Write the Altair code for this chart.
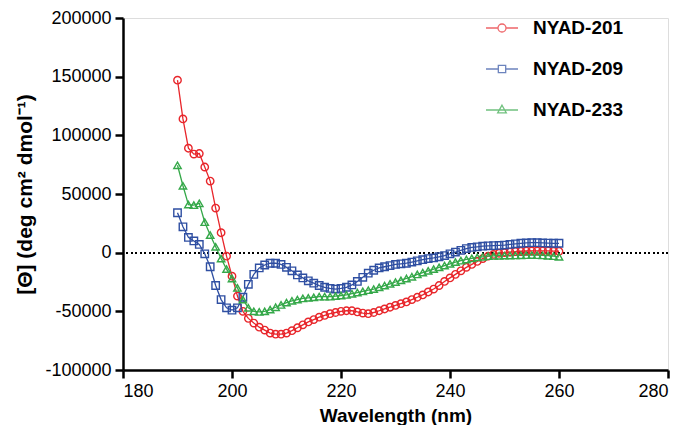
import altair as alt
import pandas as pd

wavelength = list(range(190, 261))

nyad_201 = [147000, 114000, 89000, 84000, 84500, 73000, 61000, 38000, 17000, -3000,
            -20000, -37000, -50000, -56000, -60000, -63500, -66000, -68500, -69500, -69500,
            -68500, -66500, -64000, -61500, -59000, -57000, -55000, -53500, -52000, -51000,
            -50000, -49500, -49500, -50500, -51500, -52000, -51000, -49500, -48000, -46500,
            -45000, -43500, -42000, -40000, -38000, -36000, -33500, -31000, -28000, -24500,
            -21500, -18500, -15500, -12500, -10000, -7500, -5000, -3000, -1500, -500,
            0, 500, 900, 1200, 1400, 1500, 1500, 1500, 1500, 1300, 1200]

nyad_209 = [34000, 22000, 13000, 10000, 7000, -1000, -12000, -28000, -40000, -47000,
            -49000, -47000, -38000, -27000, -18500, -13000, -10500, -9000, -9000, -10000,
            -12500, -15500, -19000, -21500, -24000, -26000, -28000, -29500, -30500, -31000,
            -30500, -29500, -27500, -24500, -21000, -17500, -15000, -13000, -12000, -11000,
            -10000, -9500, -9000, -8000, -7000, -6000, -5000, -4500, -3500, -2500,
            -1000, 500, 2000, 3500, 4500, 5000, 5500, 5800, 6000, 6200,
            6500, 7000, 7500, 8000, 8300, 8500, 8500, 8300, 8200, 8000, 8000]

nyad_233 = [74500, 57000, 41000, 40500, 42000, 26000, 15000, 5000, -5000, -14000,
            -22000, -30000, -40000, -47000, -50000, -50500, -50000, -48500, -46500, -44500,
            -42500, -41000, -40000, -39000, -38500, -38000, -37500, -37500, -37500, -37000,
            -36500, -36000, -35000, -34000, -33000, -32000, -31000, -29500, -28000, -26500,
            -25000, -23500, -22000, -20500, -18500, -17000, -15500, -14000, -12500, -11000,
            -9500, -8000, -6800, -5800, -4800, -4000, -3500, -3000, -2800, -2600,
            -2500, -2400, -2300, -2200, -2100, -2000, -2100, -2300, -2600, -3000, -3500]

series_names = ["NYAD-201", "NYAD-209", "NYAD-233"]
series_colors = ["#e8262b", "#2f4fa2", "#35a849"]
series_shapes = ["circle", "square", "triangle-up"]
legend_paths = [
    "M-1,0H-0.25M0.25,0H1M0.25,0A0.25,0.25,0,1,1,-0.25,0A0.25,0.25,0,1,1,0.25,0Z",
    "M-1,0H-0.23M0.23,0H1M-0.23,-0.23H0.23V0.23H-0.23Z",
    "M-1,0H1M0,-0.3L0.27,0.18H-0.27Z",
]

x_ticks = [180, 200, 220, 240, 260, 280]
y_ticks = [-100000, -50000, 0, 50000, 100000, 150000, 200000]

rows = []
for name, vals in zip(series_names, [nyad_201, nyad_209, nyad_233]):
    for w, v in zip(wavelength, vals):
        rows.append({"wl": w, "val": v, "series": name, "Sample": name})
df = pd.DataFrame(rows)

FONT = "Liberation Sans"

x_enc = alt.X("wl:Q", scale=alt.Scale(domain=[180, 280], nice=False),
              axis=alt.Axis(values=x_ticks, title="Wavelength (nm)", grid=False,
                            labelFontSize=18, titleFontSize=19, titleFontWeight="bold",
                            tickSize=8, tickWidth=2.5, domainWidth=2.5,
                            domainColor="black", tickColor="black", labelColor="black",
                            titleColor="black", labelPadding=4, titlePadding=6,
                            labelFont=FONT, titleFont=FONT))
y_enc = alt.Y("val:Q", scale=alt.Scale(domain=[-100000, 200000], nice=False),
              axis=alt.Axis(values=y_ticks, title="[Θ] (deg cm² dmol⁻¹)", grid=False,
                            labelExpr="'' + datum.value",
                            labelFontSize=18, titleFontSize=21, titleFontWeight="bold",
                            tickSize=8, tickWidth=2.5, domainWidth=2.5,
                            domainColor="black", tickColor="black", labelColor="black",
                            titleColor="black", labelPadding=4, titleX=-98,
                            titleBaseline="middle",
                            labelFont=FONT, titleFont=FONT))

color_scale = alt.Scale(domain=series_names, range=series_colors)

zero = alt.Chart(df).mark_rule(color="black", strokeWidth=1.2, strokeDash=[1.5, 3]).encode(
    y=alt.datum(0)
)

lines = alt.Chart(df).mark_line(strokeWidth=1.3).encode(
    x=x_enc, y=y_enc,
    color=alt.Color("series:N", scale=color_scale, legend=None),
    detail="series:N",
)

points = alt.Chart(df).mark_point(filled=False, size=55, strokeWidth=1.4, opacity=1).encode(
    x="wl:Q", y="val:Q",
    color=alt.Color("series:N", scale=color_scale, legend=None),
    shape=alt.Shape("series:N", scale=alt.Scale(domain=series_names, range=series_shapes), legend=None),
)

legend_layer = alt.Chart(df).mark_point(filled=False, size=0, strokeWidth=1.3).encode(
    x="wl:Q", y="val:Q",
    color=alt.Color("Sample:N", scale=alt.Scale(domain=series_names, range=series_colors),
                    legend=alt.Legend(title=None, orient="none", legendX=362, legendY=-7,
                                      symbolSize=1024, symbolStrokeWidth=1.3,
                                      labelFontSize=19, labelFontWeight="bold",
                                      labelFont=FONT, labelColor="black",
                                      labelOffset=14, rowPadding=14, padding=0,
                                      symbolType="circle")),
    shape=alt.Shape("Sample:N", scale=alt.Scale(domain=series_names, range=legend_paths)),
)

chart = alt.layer(zero, lines, points, legend_layer).resolve_scale(
    color="independent", shape="independent"
).properties(
    width=545, height=352,
    autosize=alt.AutoSizeParams(type="none"),
    padding={"left": 115, "top": 10, "right": 4, "bottom": 55},
).configure_view(
    stroke="black", strokeWidth=2.5
).configure(font=FONT)

chart.save("out.html", embed_options={"renderer": "svg", "actions": False})
